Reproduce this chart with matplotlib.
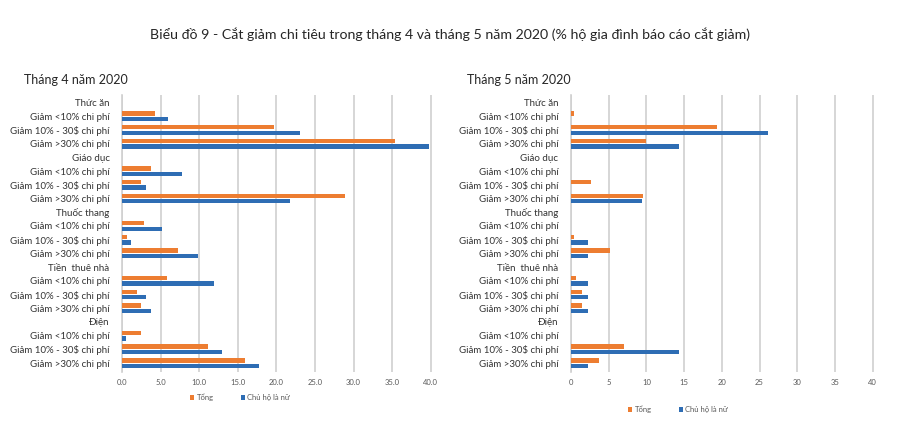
import matplotlib
matplotlib.use("Agg")
import matplotlib.pyplot as plt
import numpy as np

plt.rcParams['font.family'] = ['Lato', 'Noto Sans', 'DejaVu Sans']

title = "Biểu đồ 9 - Cắt giảm chi tiêu trong tháng 4 và tháng 5 năm 2020 (% hộ gia đình báo cáo cắt giảm)"
categories = ["Thức ăn", "Giáo dục", "Thuốc thang", "Tiền  thuê nhà", "Điện"]
levels = ["Giảm <10% chi phí", "Giảm 10% - 30$ chi phí", "Giảm >30% chi phí"]
series_names = ["Tổng", "Chủ hộ là nữ"]
colors = ["#ED7D31", "#2E6DB4"]

# April 2020 (per category: <10%, 10-30%, >30%)
apr_tong = [4.3, 19.7, 35.4,
            3.7, 2.5, 28.9,
            2.9, 0.7, 7.3,
            5.8, 1.9, 2.5,
            2.5, 11.1, 15.9]
apr_nu = [6.0, 23.1, 39.8,
          7.8, 3.1, 21.8,
          5.2, 1.2, 9.8,
          11.9, 3.1, 3.8,
          0.55, 13.0, 17.8]
# May 2020
may_tong = [0.35, 19.4, 10.0,
            0.0, 2.6, 9.6,
            0.0, 0.35, 5.2,
            0.65, 1.4, 1.4,
            0.0, 7.0, 3.7]
may_nu = [0.0, 26.1, 14.3,
          0.0, 0.0, 9.4,
          0.0, 2.3, 2.3,
          2.3, 2.3, 2.3,
          0.0, 14.3, 2.3]

apr_ticks = ["0.0", "5.0", "10.0", "15.0", "20.0", "25.0", "30.0", "35.0", "40.0"]
may_ticks = ["0", "5", "10", "15", "20", "25", "30", "35", "40"]
tick_vals = [0, 5, 10, 15, 20, 25, 30, 35, 40]

fig = plt.figure(figsize=(9, 4.37), dpi=100)
fig.patch.set_facecolor("white")

labels = []
for c in categories:
    labels.append(c)
    for l in levels:
        labels.append(l)
bar_rows = [i for i, lab in enumerate(labels) if lab not in categories]

def draw(ax, tong, nu, ticklabels, subtitle, tx, legend_y, legend_x):
    y = np.array(bar_rows, dtype=float)
    h = 0.32
    ax.barh(y - 0.2, tong, height=h, color=colors[0], label=series_names[0], zorder=3)
    ax.barh(y + 0.2, nu, height=h, color=colors[1], label=series_names[1], zorder=3)
    ax.set_ylim(len(labels) - 0.5 + 0.15, -0.5 - 0.05)
    ax.set_xlim(0, 40.3)
    ax.set_yticks(range(len(labels)))
    ax.set_yticklabels(labels, fontsize=7, color="#333333")
    ax.set_xticks(tick_vals)
    ax.set_xticklabels(ticklabels, fontsize=5.5, color="#595959")
    ax.tick_params(axis='y', length=0, pad=9)
    ax.tick_params(axis='x', length=0, pad=5)
    ax.grid(axis='x', color="#D0D0D0", linewidth=1.2, zorder=0)
    for s in ["top", "right", "bottom"]:
        ax.spines[s].set_visible(False)
    ax.spines["left"].set_color("#D0D0D0")
    ax.spines["left"].set_linewidth(1.2)
    fig.text(tx, 1 - 80 / 437, subtitle, fontsize=9, color="#262626", va="center")
    leg = fig.legend(handles=ax.get_legend_handles_labels()[0],
                     labels=series_names, loc="center left",
                     bbox_to_anchor=(legend_x, 1 - legend_y / 437),
                     ncol=2, frameon=False, fontsize=5.5,
                     handlelength=0.6, handleheight=0.6, columnspacing=3.5,
                     handletextpad=0.3)
    for t in leg.get_texts():
        t.set_color("#595959")

ax1 = fig.add_axes([122 / 900, 1 - 372 / 437, 311 / 900, 277 / 437])
draw(ax1, apr_tong, apr_nu, apr_ticks, "Tháng 4 năm 2020", 24 / 900, 397, 183 / 900)
ax2 = fig.add_axes([571 / 900, 1 - 372 / 437, 304 / 900, 277 / 437])
draw(ax2, may_tong, may_nu, may_ticks, "Tháng 5 năm 2020", 467 / 900, 409, 621 / 900)

fig.text(0.5, 1 - 34 / 437, title, fontsize=10.2, color="#262626", ha="center", va="center")

fig.savefig("out.png", dpi=100, facecolor="white")
